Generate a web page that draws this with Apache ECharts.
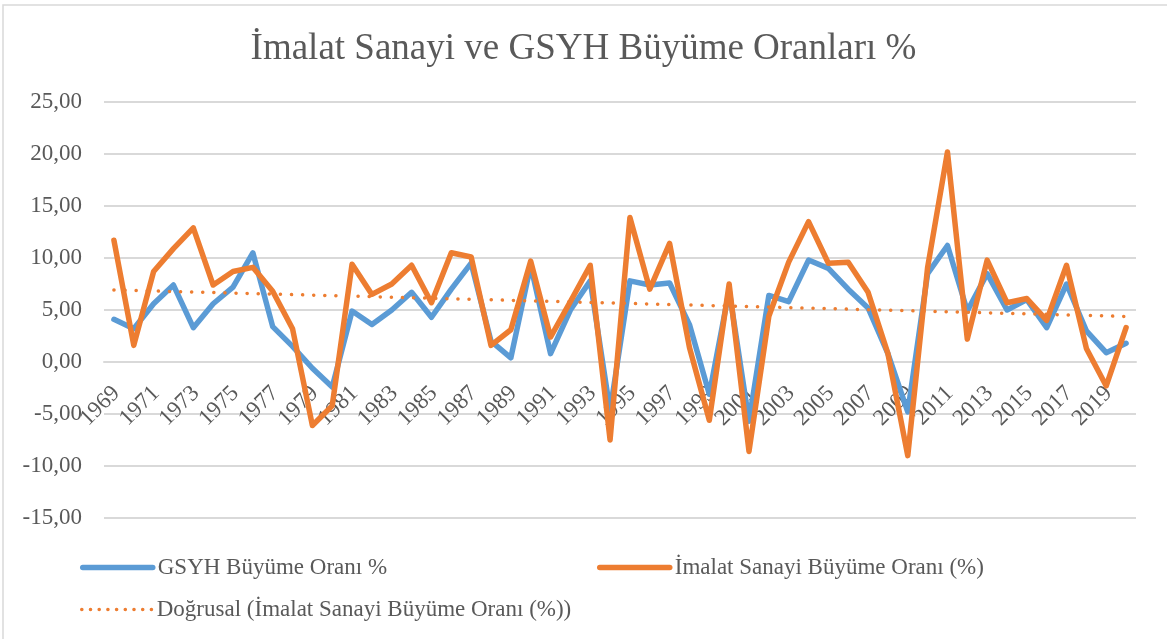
<!DOCTYPE html>
<html>
<head>
<meta charset="utf-8">
<script src="https://cdn.jsdelivr.net/npm/echarts@6/dist/echarts.min.js"></script>
<style>
html,body{margin:0;padding:0;background:#fff;}
#c{width:1167px;height:639px;}
</style>
</head>
<body>
<div id="c"></div>
<script>
const years = ['1969','1970','1971','1972','1973','1974','1975','1976','1977','1978','1979','1980','1981','1982','1983','1984','1985','1986','1987','1988','1989','1990','1991','1992','1993','1994','1995','1996','1997','1998','1999','2000','2001','2002','2003','2004','2005','2006','2007','2008','2009','2010','2011','2012','2013','2014','2015','2016','2017','2018','2019','2020'];
const gsyh = [4.1,3.2,5.6,7.4,3.3,5.6,7.2,10.5,3.4,1.5,-0.6,-2.4,4.9,3.6,5.0,6.7,4.3,7.0,9.5,2.0,0.4,9.3,0.8,5.0,7.8,-4.7,7.8,7.4,7.6,3.6,-3.1,6.9,-5.7,6.4,5.8,9.8,9.0,7.0,5.2,0.8,-4.8,8.5,11.2,4.9,8.5,5.0,6.0,3.3,7.5,3.0,0.9,1.8];
const imalat = [11.7,1.6,8.7,10.9,12.9,7.4,8.7,9.1,6.8,3.2,-6.1,-4.2,9.4,6.5,7.5,9.3,5.7,10.5,10.1,1.6,3.1,9.7,2.4,5.8,9.3,-7.5,13.9,7.0,11.4,1.4,-5.6,7.5,-8.6,4.4,9.6,13.5,9.5,9.6,6.7,0.8,-9.0,9.1,20.2,2.2,9.8,5.7,6.1,4.0,9.3,1.3,-2.3,3.3];
const trendYears = ['1969','2020'];
const trendValues = [6.93,4.38];
const yTicks = {min:-15, max:25, interval:5};
const names = ['GSYH Büyüme Oranı %','İmalat Sanayi Büyüme Oranı (%)','Doğrusal (İmalat Sanayi Büyüme Oranı (%))'];

const font = 'Liberation Serif';
const txt = '#595959';
const chart = echarts.init(document.getElementById('c'));
const legendBase = {
  orient:'horizontal', itemWidth:70, itemHeight:8, itemGap:10,
  textStyle:{fontFamily:font, fontSize:23, color:txt},
  itemStyle:{opacity:0, borderWidth:0},
  selectedMode:false, padding:0
};
chart.setOption({
  backgroundColor:'#fff',
  animation:false,
  title:{text:'İmalat Sanayi ve GSYH Büyüme Oranları %', left:'center', top:26,
    textStyle:{fontFamily:font, fontSize:37, fontWeight:'normal', color:txt}},
  graphic:[{type:'rect', shape:{x:3,y:5,width:1300,height:800},
    style:{fill:'none', stroke:'#d9d9d9', lineWidth:1.5}, silent:true, z:-1}],
  legend:[
    Object.assign({}, legendBase, {data:[names[0]], left:80, top:556,
      lineStyle:{width:5.5, cap:'round'}}),
    Object.assign({}, legendBase, {data:[names[1]], left:597, top:556,
      lineStyle:{width:5.5, cap:'round'}}),
    Object.assign({}, legendBase, {data:[names[2]], left:80, top:598,
      lineStyle:{type:[0.1,8.6], width:3.5, cap:'round'}})
  ],
  grid:{left:104, right:31, top:102, bottom:121, containLabel:false},
  xAxis:{type:'category', data:years, boundaryGap:true, offset:-156,
    axisLine:{show:true, onZero:false, lineStyle:{color:'#d9d9d9', width:2}},
    axisTick:{show:false},
    axisLabel:{interval:1, rotate:45, margin:14, verticalAlign:'top', padding:[0,8,0,0],
      fontFamily:font, fontSize:23, color:txt},
    splitLine:{show:false}},
  yAxis:{type:'value', min:yTicks.min, max:yTicks.max, interval:yTicks.interval,
    axisLine:{show:false}, axisTick:{show:false},
    axisLabel:{margin:22, fontFamily:font, fontSize:23, color:txt,
      formatter:v=>v.toFixed(2).replace('.',',')},
    splitLine:{lineStyle:{color:'#d9d9d9', width:2}}},
  series:[
    {name:names[0], type:'line', data:gsyh, symbol:'none', color:'#5B9BD5',
      lineStyle:{width:5.5, color:'#5B9BD5', join:'round', cap:'round'}, z:2},
    {name:names[1], type:'line', data:imalat, symbol:'none', color:'#ED7D31',
      lineStyle:{width:5.5, color:'#ED7D31', join:'round', cap:'round'}, z:3},
    {name:names[2], type:'line', data:trendYears.map((y,i)=>[y,trendValues[i]]), symbol:'none', color:'#ED7D31',
      lineStyle:{width:3.5, color:'#ED7D31', type:[0.1,11], cap:'round'}, z:4}
  ]
});
</script>
</body>
</html>
